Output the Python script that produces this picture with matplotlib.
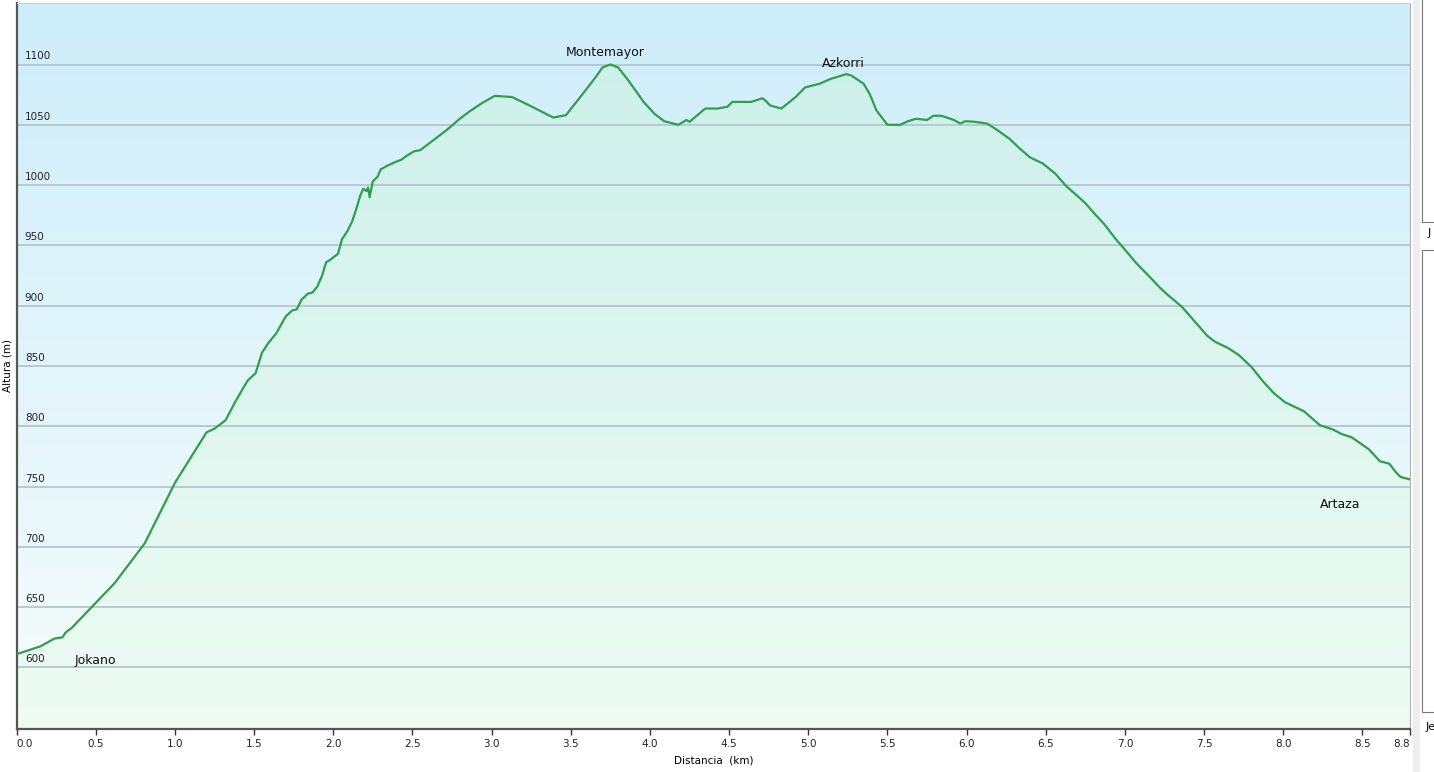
import matplotlib.pyplot as plt
import matplotlib.patches as patches
import numpy as np

# profile
dist_km = [0.00, 0.15, 0.24, 0.29, 0.31, 0.35, 0.43, 0.48, 0.62, 0.81, 1.00, 1.20, 1.25,
           1.32, 1.38, 1.46, 1.51, 1.55, 1.59, 1.64, 1.70, 1.74, 1.77, 1.80, 1.84, 1.87,
           1.90, 1.93, 1.955, 1.98, 2.03, 2.055, 2.09, 2.12, 2.15, 2.17, 2.19, 2.21, 2.22,
           2.23, 2.25, 2.28, 2.30, 2.34, 2.39, 2.43, 2.46, 2.51, 2.55, 2.61, 2.67, 2.72,
           2.79, 2.86, 2.94, 3.02, 3.13, 3.24, 3.39, 3.47, 3.59, 3.66, 3.70, 3.75, 3.80,
           3.86, 3.96, 4.03, 4.09, 4.18, 4.23, 4.25, 4.35, 4.43, 4.49, 4.52, 4.64, 4.71,
           4.73, 4.76, 4.83, 4.92, 4.98, 5.07, 5.14, 5.24, 5.27, 5.35, 5.39, 5.43, 5.50,
           5.58, 5.63, 5.68, 5.75, 5.79, 5.84, 5.92, 5.96, 5.99, 6.05, 6.13, 6.19, 6.27,
           6.33, 6.40, 6.48, 6.56, 6.63, 6.70, 6.75, 6.81, 6.87, 6.94, 6.99, 7.07, 7.17,
           7.22, 7.27, 7.36, 7.46, 7.52, 7.57, 7.65, 7.72, 7.80, 7.87, 7.94, 8.01, 8.13,
           8.23, 8.31, 8.37, 8.43, 8.54, 8.61, 8.67, 8.71, 8.74, 8.80]
elev_m = [611, 617.5, 624, 625, 629, 633, 644, 651, 670, 703, 753, 795, 798,
          805, 820, 838, 844, 861, 869, 877, 891, 896, 897, 905, 910, 911,
          916, 925, 936, 938, 943, 955, 962, 970, 982, 991, 997, 995, 998,
          990, 1003, 1007, 1013, 1016, 1019, 1021, 1024, 1028, 1029, 1035, 1041, 1046,
          1054, 1061, 1068, 1074, 1073, 1066, 1056, 1058, 1078, 1090, 1097.5, 1100, 1097.5,
          1087.5, 1069, 1059, 1053, 1050, 1054, 1052.5, 1063.5, 1063.5, 1065, 1069, 1069, 1072,
          1070, 1066, 1063.5, 1073, 1081, 1084, 1088, 1092, 1091, 1084, 1075, 1062, 1050,
          1050, 1053, 1055, 1054, 1057.5, 1057.5, 1054, 1051, 1053, 1052.5, 1051, 1046, 1038.5,
          1031, 1023, 1018, 1009.5, 999, 991, 985, 976, 967.5, 955.5, 948, 935.5, 922,
          915, 909, 899, 884, 875, 870, 865, 859, 849, 837.5, 827.5, 820, 812.5,
          801, 797.5, 793.5, 791, 781, 771, 769, 762, 758, 756]

places = ["Jokano", "Montemayor", "Azkorri", "Artaza"]
place_x = [0.50, 3.72, 5.22, 8.36]
place_y = [606, 1110, 1101, 735]

y_ticks = [600, 650, 700, 750, 800, 850, 900, 950, 1000, 1050, 1100]
x_ticks = [0.0, 0.5, 1.0, 1.5, 2.0, 2.5, 3.0, 3.5, 4.0, 4.5, 5.0, 5.5, 6.0, 6.5, 7.0, 7.5, 8.0, 8.5, 8.8]

W, H = 1434, 772
fig = plt.figure(figsize=(W / 100, H / 100), dpi=100)
ax = fig.add_axes([16.5 / W, 1 - 729 / H, (1410 - 16.5) / W, 726 / H])

xmin, xmax, ymin, ymax = 0, 8.8, 549, 1151
ax.set_xlim(xmin, xmax)
ax.set_ylim(ymin, ymax)


def vgrad(c_top, c_bot):
    c_top = np.array(c_top) / 255
    c_bot = np.array(c_bot) / 255
    t = np.linspace(0, 1, 256)[:, None]
    return (c_top * (1 - t) + c_bot * t)[:, None, :]


# background: light blue at top to near white at bottom
ax.imshow(vgrad((205, 237, 250), (246, 253, 252)), extent=[xmin, xmax, ymin, ymax],
          aspect='auto', zorder=0)

# area under the profile: mint at top to pale green at the bottom
img = ax.imshow(vgrad((206, 241, 234), (238, 252, 242)), extent=[xmin, xmax, ymin, 1100],
                aspect='auto', zorder=1, alpha=0.9)
poly = patches.Polygon(np.column_stack([[0] + dist_km + [xmax], [ymin] + elev_m + [ymin]]),
                       closed=True, transform=ax.transData)
img.set_clip_path(poly)

for yt in y_ticks:
    ax.axhline(yt, color='#b4c6cc', lw=1.3, zorder=2)
    ax.text(0.006, yt + 2.5, str(yt), transform=ax.get_yaxis_transform(),
            fontsize=7.5, color='#222222', ha='left', va='bottom', zorder=4)

ax.plot(dist_km, elev_m, color='#2e9f4c', lw=1.6, zorder=3)

for name, px, py in zip(places, place_x, place_y):
    ax.text(px, py, name, fontsize=9, color='#111111', ha='center', va='center', zorder=4)

ax.set_yticks([])
ax.set_xticks(x_ticks)
ax.set_xticklabels([f"{v:.1f}" for v in x_ticks], fontsize=7.5, color='#222222')
lbls = ax.get_xticklabels()
lbls[0].set_ha('left')
lbls[-1].set_ha('right')
ax.tick_params(axis='x', length=4, width=1, color='#333333', pad=3)

ax.set_xlabel('Distancia  (km)', fontsize=7.5, labelpad=5)
ax.set_ylabel('Altura (m)', fontsize=7.5)
ax.yaxis.set_label_coords(-0.003, 0.5)

for side in ['left', 'bottom']:
    ax.spines[side].set_color('#555555')
    ax.spines[side].set_linewidth(1.6)
ax.spines['top'].set_color('#c8d0d4')
ax.spines['top'].set_linewidth(0.8)
ax.spines['right'].set_color('#b0b0b0')
ax.spines['right'].set_linewidth(0.8)

# side panel remnants at the right edge
fig.patches.append(patches.Rectangle((1413 / W, 0), 7 / W, 1, transform=fig.transFigure,
                                     facecolor='#eeeeee', edgecolor='none'))
fig.patches.append(patches.Rectangle((1422 / W, 1 - 222 / H), 20 / W, 224 / H,
                                     transform=fig.transFigure, facecolor='white',
                                     edgecolor='#777777', lw=0.8))
fig.patches.append(patches.Rectangle((1422 / W, 1 - 712 / H), 20 / W, 462 / H,
                                     transform=fig.transFigure, facecolor='white',
                                     edgecolor='#777777', lw=0.8))
fig.text(1428 / W, 1 - 233 / H, 'J', fontsize=8, va='center')
fig.text(1426 / W, 1 - 727 / H, 'Je', fontsize=8, va='center')

fig.savefig('out.png', dpi=100)
